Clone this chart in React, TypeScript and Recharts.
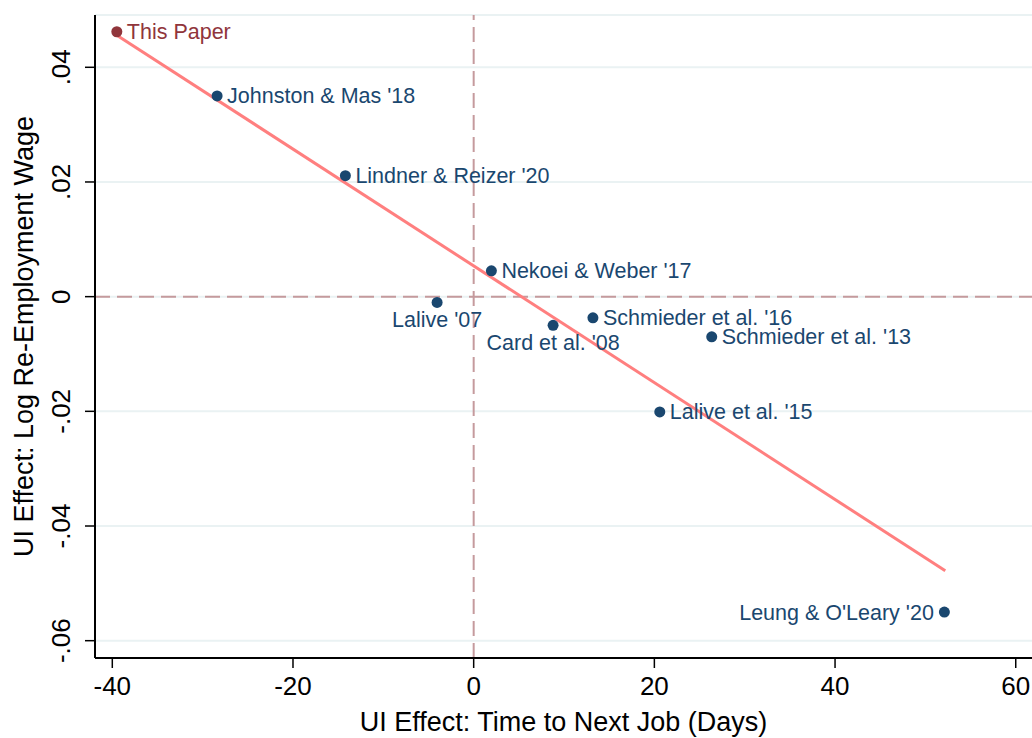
import React from 'react';
import { ScatterChart, Scatter, XAxis, YAxis, CartesianGrid, ReferenceLine } from 'recharts';

// study labels and their estimated UI effects
const studyNames = [
  'This Paper',
  "Johnston & Mas '18",
  "Lindner & Reizer '20",
  "Nekoei & Weber '17",
  "Lalive '07",
  "Card et al. '08",
  "Schmieder et al. '16",
  "Schmieder et al. '13",
  "Lalive et al. '15",
  "Leung & O'Leary '20",
];
const daysToNextJob = [-39.5, -28.4, -14.2, 1.96, -4.05, 8.79, 13.2, 26.35, 20.6, 52.1];
const logWageEffect = [0.0462, 0.035, 0.0211, 0.0045, -0.001, -0.005, -0.0037, -0.007, -0.0201, -0.055];

// fitted line end points
const fitDays = [-39.5, 52.2];
const fitWage = [0.0456, -0.0478];

const xTicks = [-40, -20, 0, 20, 40, 60];
const yTicks = [-0.06, -0.04, -0.02, 0, 0.02, 0.04];

const FONT = "'Liberation Sans', Arial, Helvetica, sans-serif";
const NAVY = '#1a476f';
const MAROON = '#90353b';

// where each marker label sits relative to its dot (default: right)
const labelSide: Record<string, 'right' | 'left' | 'below'> = {
  "Lalive '07": 'below',
  "Card et al. '08": 'below',
  "Leung & O'Leary '20": 'left',
};

const points = studyNames.map((name, i) => ({ name, x: daysToNextJob[i], y: logWageEffect[i] }));

const fmtY = (v: number) => (v === 0 ? '0' : v.toFixed(2).replace('0.', '.'));

const StudyDot = (props: any) => {
  const { cx, cy, payload } = props;
  if (cx == null || cy == null) return <g />;
  const color = payload.name === 'This Paper' ? MAROON : NAVY;
  const side = labelSide[payload.name] || 'right';
  let tx = cx + 10;
  let ty = cy + 7.5;
  let anchor: 'start' | 'middle' | 'end' = 'start';
  if (side === 'left') {
    tx = cx - 10.5;
    anchor = 'end';
  } else if (side === 'below') {
    tx = cx;
    ty = cy + 25;
    anchor = 'middle';
  }
  return (
    <g>
      <circle cx={cx} cy={cy} r={5.5} fill={color} />
      <text x={tx} y={ty} textAnchor={anchor} fill={color} fontSize={21.5} fontFamily={FONT}>
        {payload.name}
      </text>
    </g>
  );
};

const XTick = (props: any) => {
  const { x, y, payload } = props;
  return (
    <text x={x} y={y + 25} textAnchor="middle" fill="#000" fontSize={26} fontFamily={FONT}>
      {payload.value}
    </text>
  );
};

const YTick = (props: any) => {
  const { x, y, payload } = props;
  const bx = x - 13;
  return (
    <text x={bx} y={y} transform={`rotate(-90, ${bx}, ${y})`} textAnchor="middle" fill="#000" fontSize={26} fontFamily={FONT}>
      {fmtY(payload.value)}
    </text>
  );
};

const XTitle = (props: any) => {
  const vb = props.viewBox || { x: 95, y: 658, width: 937 };
  return (
    <text x={vb.x + vb.width / 2} y={vb.y + 73} textAnchor="middle" fill="#000" fontSize={27} fontFamily={FONT}>
      UI Effect: Time to Next Job (Days)
    </text>
  );
};

const YTitle = (props: any) => {
  const vb = props.viewBox || { x: 0, y: 15, height: 643 };
  const cx = 33;
  const cy = vb.y + vb.height / 2;
  return (
    <text x={cx} y={cy} transform={`rotate(-90, ${cx}, ${cy})`} textAnchor="middle" fill="#000" fontSize={27} fontFamily={FONT}>
      UI Effect: Log Re-Employment Wage
    </text>
  );
};

export default function App() {
  return (
    <div style={{ position: 'absolute', left: 0, top: 0, width: 1032, height: 738, background: '#fff', overflow: 'hidden' }}>
      <ScatterChart width={1032} height={738} margin={{ top: 15, right: 0, bottom: 0, left: 0 }}>
        <CartesianGrid vertical={false} stroke="#eaf2f3" strokeWidth={2} />
        <XAxis
          type="number"
          dataKey="x"
          domain={[-41.915, 61.8]}
          allowDataOverflow
          ticks={xTicks}
          height={80}
          tickSize={10}
          tick={<XTick />}
          axisLine={{ stroke: '#000', strokeWidth: 2 }}
          tickLine={{ stroke: '#000', strokeWidth: 1.5 }}
          label={XTitle}
        />
        <YAxis
          type="number"
          dataKey="y"
          domain={[-0.06302, 0.04912]}
          allowDataOverflow
          ticks={yTicks}
          width={95}
          tickSize={10}
          tick={<YTick />}
          axisLine={{ stroke: '#000', strokeWidth: 2 }}
          tickLine={{ stroke: '#000', strokeWidth: 1.5 }}
          label={YTitle}
        />
        <ReferenceLine x={0} stroke="#c59a9d" strokeWidth={2} strokeDasharray="15 7" />
        <ReferenceLine y={0} stroke="#c59a9d" strokeWidth={2} strokeDasharray="15 7" />
        <ReferenceLine
          segment={[
            { x: fitDays[0], y: fitWage[0] },
            { x: fitDays[1], y: fitWage[1] },
          ]}
          stroke="#ff7f7f"
          strokeWidth={3}
        />
        <Scatter data={points} shape={StudyDot} isAnimationActive={false} />
      </ScatterChart>
    </div>
  );
}
